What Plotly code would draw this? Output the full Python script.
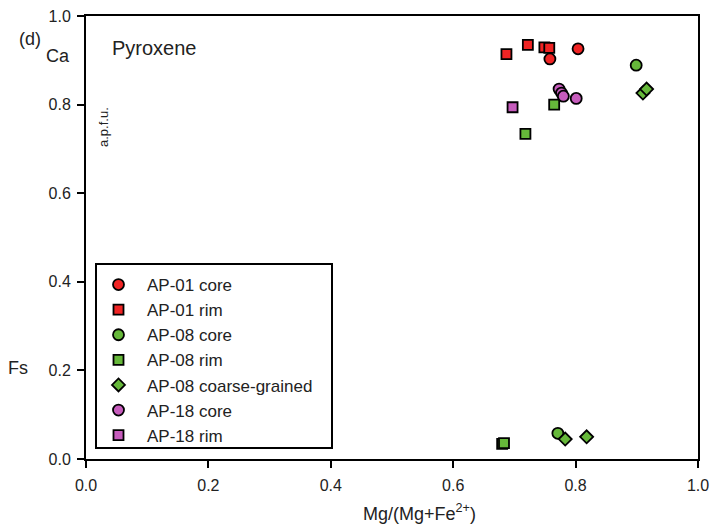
import plotly.graph_objects as go

# ---- data ----
ap01_core_x = [0.758, 0.804]
ap01_core_y = [0.903, 0.926]

ap01_rim_x = [0.687, 0.722, 0.749, 0.757]
ap01_rim_y = [0.914, 0.935, 0.929, 0.928]

ap08_core_x = [0.899, 0.771]
ap08_core_y = [0.889, 0.058]

ap08_rim_x = [0.765, 0.718, 0.680, 0.683]
ap08_rim_y = [0.800, 0.734, 0.034, 0.036]

ap08_cg_x = [0.910, 0.916, 0.783, 0.818]
ap08_cg_y = [0.826, 0.835, 0.045, 0.050]

ap18_core_x = [0.773, 0.777, 0.780, 0.801]
ap18_core_y = [0.835, 0.826, 0.819, 0.814]

ap18_rim_x = [0.697]
ap18_rim_y = [0.794]

x_ticks = [0.0, 0.2, 0.4, 0.6, 0.8, 1.0]
y_ticks = [0.0, 0.2, 0.4, 0.6, 0.8, 1.0]
tick_labels = ["0.0", "0.2", "0.4", "0.6", "0.8", "1.0"]

RED = "#f02424"
GREEN = "#66b83a"
PURPLE = "#c65cbc"
FONT = "Liberation Sans, Arial, sans-serif"
TXT = "#222222"

series = [
    ("AP-01 core", ap01_core_x, ap01_core_y, "circle", RED, 11),
    ("AP-01 rim", ap01_rim_x, ap01_rim_y, "square", RED, 10),
    ("AP-08 core", ap08_core_x, ap08_core_y, "circle", GREEN, 11),
    ("AP-08 rim", ap08_rim_x, ap08_rim_y, "square", GREEN, 10),
    ("AP-08 coarse-grained", ap08_cg_x, ap08_cg_y, "diamond", GREEN, 10),
    ("AP-18 core", ap18_core_x, ap18_core_y, "circle", PURPLE, 11),
    ("AP-18 rim", ap18_rim_x, ap18_rim_y, "square", PURPLE, 10),
]

fig = go.Figure()
for name, xs, ys, sym, col, sz in series:
    fig.add_trace(go.Scatter(
        x=xs, y=ys, mode="markers", name=name,
        marker=dict(symbol=sym, color=col, size=sz,
                    line=dict(color="black", width=1.8)),
    ))

W, H = 715, 528
L, R, T, B = 86, 17, 16, 69
PW, PH = W - L - R, H - T - B

def px2paper(px, py):
    return (px - L) / PW, (H - B - py) / PH

fig.update_layout(
    width=W, height=H,
    margin=dict(l=L, r=R, t=T, b=B, pad=0, autoexpand=False),
    paper_bgcolor="white", plot_bgcolor="white",
    font=dict(family=FONT, size=16, color=TXT),
    showlegend=True,
    legend=dict(
        x=px2paper(90, 0)[0], y=px2paper(0, 267)[1],
        xanchor="left", yanchor="top",
        bgcolor="rgba(0,0,0,0)", borderwidth=0,
        font=dict(family=FONT, size=17, color=TXT),
        tracegroupgap=0, itemwidth=47,
    ),
)

axis_common = dict(
    range=[0, 1], ticktext=tick_labels,
    showgrid=False, zeroline=False, automargin=False,
    showline=True, linecolor="black", linewidth=2, mirror=True,
    ticks="outside", ticklen=7, tickwidth=1.5, tickcolor="black",
    tickfont=dict(family=FONT, size=16, color=TXT),
)
fig.update_xaxes(tickvals=x_ticks, ticklabelstandoff=4, **axis_common)
fig.update_yaxes(tickvals=y_ticks, ticklabelstandoff=3, **axis_common)

# legend frame
x0, y0 = px2paper(96, 448)
x1, y1 = px2paper(332, 264)
fig.add_shape(type="rect", xref="paper", yref="paper",
              x0=x0, x1=x1, y0=y0, y1=y1,
              line=dict(color="black", width=2), fillcolor="rgba(0,0,0,0)",
              layer="below")

def note(text, px, py, size, angle=0):
    xx, yy = px2paper(px, py)
    fig.add_annotation(text=text, x=xx, y=yy, xref="paper", yref="paper",
                       showarrow=False, xanchor="center", yanchor="middle",
                       textangle=angle,
                       font=dict(family=FONT, size=size, color=TXT))

note("(d)", 30, 39, 18)
note("Ca", 58, 56, 18)
note("Fs", 18, 368, 18)
note("a.p.f.u.", 103, 127, 13, angle=-90)
note("Pyroxene", 154, 48, 20)
note("Mg/(Mg+Fe<sup>2+</sup>)", 420, 512, 18)

fig.write_html(
    "out.html",
    config={"displayModeBar": False},
    post_script="document.body.style.margin='0';document.body.style.overflow='hidden';",
)
